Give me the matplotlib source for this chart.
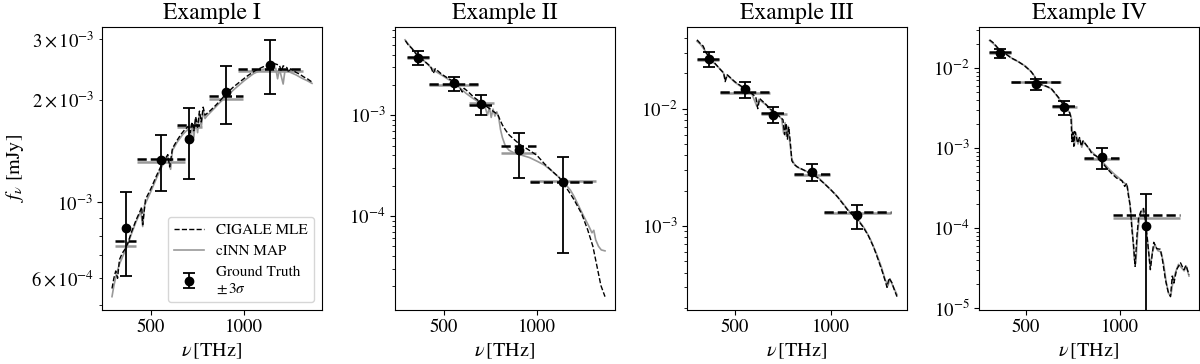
import matplotlib
matplotlib.use('Agg')
import matplotlib.pyplot as plt
import numpy as np

plt.rcParams['font.family'] = 'serif'
plt.rcParams['font.serif'] = ['STIXGeneral', 'Liberation Serif', 'DejaVu Serif']
plt.rcParams['mathtext.fontset'] = 'stix'

titles = ['Example I', 'Example II', 'Example III', 'Example IV']

# filter bands [THz]
band_lo = [305, 423, 638, 810, 965]
band_hi = [420, 685, 772, 995, 1318]
gt_nu = [365, 555, 702, 903, 1140]

# ground truth fluxes and 3 sigma errors [mJy]
gt_flux = [
    [0.84e-3, 1.33e-3, 1.53e-3, 2.105e-3, 2.53e-3],
    [3.72e-3, 2.07e-3, 1.29e-3, 4.54e-4, 2.15e-4],
    [2.67e-2, 1.46e-2, 8.9e-3, 2.9e-3, 1.23e-3],
    [1.55e-2, 6.3e-3, 3.26e-3, 7.76e-4, 1.05e-4],
]
gt_err = [
    [2.3e-4, 2.5e-4, 3.6e-4, 4.05e-4, 4.6e-4],
    [5.8e-4, 3.3e-4, 2.9e-4, 2.16e-4, 1.72e-4],
    [4.0e-3, 2.2e-3, 1.35e-3, 5.0e-4, 2.8e-4],
    [2.0e-3, 9.5e-4, 6.4e-4, 2.3e-4, 1.58e-4],
]

# band fluxes of the two models [mJy]
cigale_band = [
    [0.77e-3, 1.34e-3, 1.69e-3, 2.05e-3, 2.45e-3],
    [3.8e-3, 2.03e-3, 1.25e-3, 4.9e-4, 2.17e-4],
    [2.63e-2, 1.38e-2, 9.2e-3, 2.77e-3, 1.32e-3],
    [1.58e-2, 6.7e-3, 3.32e-3, 7.4e-4, 1.44e-4],
]
cinn_band = [
    [0.745e-3, 1.31e-3, 1.66e-3, 2.01e-3, 2.43e-3],
    [3.7e-3, 2.0e-3, 1.32e-3, 4.2e-4, 2.2e-4],
    [2.6e-2, 1.36e-2, 9.0e-3, 2.74e-3, 1.30e-3],
    [1.55e-2, 6.6e-3, 3.25e-3, 7.2e-4, 1.33e-4],
]

# spectra (nu [THz], flux [1e-3 mJy])
cig1_nu = [290, 300, 310, 320, 330, 345, 360, 375, 395, 420, 440, 450, 455, 470, 500, 530, 560, 590, 600,
           615, 640, 660, 680, 700, 710, 720, 730, 740, 750, 760, 770, 780, 790, 800, 820, 850, 880, 900,
           940, 980, 1020, 1060, 1100, 1140, 1160, 1190, 1200, 1210, 1230, 1240, 1250, 1280, 1300, 1320,
           1340, 1365]
cig1_f = [0.56, 0.60, 0.63, 0.60, 0.68, 0.71, 0.73, 0.76, 0.82, 0.89, 0.94, 0.97, 0.86, 1.02, 1.10, 1.20,
          1.30, 1.38, 1.27, 1.44, 1.52, 1.58, 1.63, 1.67, 1.60, 1.72, 1.62, 1.78, 1.66, 1.85, 1.72, 1.90,
          1.80, 1.82, 1.86, 1.93, 2.01, 2.07, 2.17, 2.26, 2.35, 2.43, 2.49, 2.54, 2.55, 2.52, 2.42, 2.51,
          2.48, 2.40, 2.46, 2.40, 2.37, 2.33, 2.30, 2.25]
cinn1_nu = [290, 300, 315, 330, 350, 370, 395, 420, 445, 455, 465, 500, 530, 560, 590, 605, 615, 640, 670,
            700, 710, 720, 730, 740, 750, 760, 770, 780, 790, 800, 830, 870, 900, 950, 1000, 1050, 1100,
            1140, 1170, 1180, 1190, 1210, 1220, 1250, 1280, 1310, 1340, 1365]
cinn1_f = [0.53, 0.57, 0.62, 0.66, 0.70, 0.74, 0.81, 0.88, 0.94, 0.85, 0.98, 1.08, 1.18, 1.28, 1.36, 1.25,
           1.42, 1.50, 1.58, 1.64, 1.52, 1.70, 1.55, 1.76, 1.60, 1.82, 1.66, 1.86, 1.76, 1.79, 1.86, 1.96,
           2.03, 2.15, 2.27, 2.38, 2.45, 2.47, 2.47, 2.30, 2.46, 2.22, 2.44, 2.40, 2.36, 2.31, 2.27, 2.23]

cig2_nu = [295, 310, 330, 350, 370, 400, 430, 445, 455, 490, 520, 555, 580, 600, 610, 630, 660, 690, 710,
           730, 750, 770, 790, 800, 815, 830, 850, 880, 910, 950, 1000, 1040, 1080, 1120, 1150, 1180,
           1200, 1240, 1272, 1300, 1343, 1365]
cig2_f = [5.5, 5.0, 4.6, 4.1, 3.8, 3.4, 3.05, 2.6, 2.9, 2.55, 2.35, 2.15, 1.95, 1.70, 1.85, 1.72, 1.52,
          1.38, 1.30, 1.22, 1.15, 1.08, 1.02, 0.92, 0.80, 0.72, 0.64, 0.57, 0.51, 0.46, 0.40, 0.33, 0.28,
          0.24, 0.20, 0.165, 0.144, 0.105, 0.073, 0.050, 0.0204, 0.0158]
cinn2_nu = [293, 310, 330, 350, 370, 400, 430, 460, 490, 520, 555, 590, 620, 650, 680, 700, 720, 735, 745,
            755, 765, 775, 785, 795, 805, 815, 830, 850, 880, 920, 960, 1000, 1040, 1080, 1120, 1150,
            1180, 1200, 1220, 1250, 1280, 1295, 1305, 1315, 1330, 1345, 1365]
cinn2_f = [5.6, 5.1, 4.6, 4.2, 3.8, 3.4, 3.0, 2.7, 2.5, 2.3, 2.1, 1.85, 1.65, 1.5, 1.38, 1.30, 1.25, 1.0,
           1.2, 0.95, 1.15, 0.98, 1.08, 0.95, 0.72, 0.60, 0.50, 0.45, 0.42, 0.40, 0.38, 0.35, 0.32, 0.28,
           0.24, 0.21, 0.18, 0.155, 0.13, 0.10, 0.078, 0.068, 0.072, 0.058, 0.050, 0.046, 0.045]

cig3_nu = [303, 320, 335, 350, 371, 400, 420, 442, 450, 460, 500, 548, 580, 610, 620, 630, 660, 690, 720,
           740, 752, 760, 768, 775, 782, 790, 798, 810, 825, 860, 895, 930, 966, 1000, 1037, 1060, 1091,
           1120, 1144, 1170, 1197, 1225, 1250, 1270, 1285, 1295, 1305, 1320, 1335, 1347]
cig3_f = [38.6, 36, 34.2, 30, 27.2, 24, 22, 20.2, 17, 19.5, 17, 15.0, 13.8, 12.6, 10, 12.2, 11.0, 9.8,
          9.0, 8.4, 8.05, 6.0, 7.5, 5.5, 7.0, 5.2, 3.6, 3.35, 3.2, 3.0, 2.81, 2.6, 2.31, 2.05, 1.77, 1.58,
          1.36, 1.22, 1.12, 0.98, 0.83, 0.66, 0.51, 0.41, 0.342, 0.30, 0.36, 0.33, 0.28, 0.25]
cinn3_nu = [303, 320, 340, 360, 380, 410, 442, 452, 462, 500, 548, 590, 615, 625, 660, 690, 720, 745,
            755, 763, 770, 778, 786, 798, 812, 830, 870, 900, 940, 980, 1020, 1060, 1090, 1120, 1150,
            1180, 1210, 1240, 1265, 1285, 1300, 1310, 1325, 1347]
cinn3_f = [37.5, 35.5, 32, 28.5, 25.5, 23, 20.0, 17.5, 19.3, 16.8, 14.8, 13.3, 10.5, 12.0, 10.9, 9.7,
           8.9, 8.2, 6.2, 7.6, 5.8, 7.1, 5.4, 3.7, 3.35, 3.15, 2.95, 2.78, 2.55, 2.2, 1.9, 1.6, 1.38, 1.22,
           1.10, 0.94, 0.76, 0.58, 0.45, 0.35, 0.31, 0.355, 0.31, 0.26]

cig4_nu = [308, 330, 350, 371, 385, 420, 456, 490, 527, 545, 563, 590, 610, 634, 660, 680, 696, 715, 732,
           740, 745, 750, 755, 760, 768, 775, 785, 795, 804, 820, 839, 850, 875, 900, 929, 955, 982, 1010,
           1025, 1036, 1045, 1054, 1063, 1072, 1080, 1090, 1098, 1110, 1125, 1135, 1143, 1152, 1161, 1170,
           1179, 1195, 1214, 1225, 1241, 1255, 1268, 1277, 1286, 1300, 1321, 1330, 1339, 1350, 1366]
cig4_f = [22.5, 20.5, 18, 16, 15.5, 13.5, 12.2, 10.8, 9.1, 8.0, 6.44, 6.1, 5.9, 5.57, 4.7, 4.1, 3.59,
          3.2, 2.81, 2.4, 1.2, 1.57, 1.05, 1.6, 1.4, 1.15, 1.35, 1.05, 1.23, 1.1, 0.96, 0.85, 0.79, 0.68,
          0.56, 0.48, 0.42, 0.39, 0.33, 0.36, 0.25, 0.192, 0.097, 0.06, 0.033, 0.08, 0.13, 0.16, 0.175,
          0.12, 0.080, 0.05, 0.030, 0.045, 0.066, 0.055, 0.054, 0.04, 0.0225, 0.016, 0.0138, 0.025,
          0.0204, 0.03, 0.0366, 0.033, 0.030, 0.034, 0.026]
cinn4_nu = [308, 330, 352, 375, 400, 430, 460, 500, 530, 548, 565, 600, 635, 665, 698, 720, 735, 743, 748,
            753, 758, 766, 777, 787, 797, 806, 825, 845, 880, 910, 940, 970, 1000, 1020, 1038, 1048, 1058,
            1066, 1076, 1084, 1094, 1104, 1120, 1132, 1142, 1150, 1160, 1172, 1185, 1200, 1218, 1232, 1245,
            1258, 1270, 1282, 1295, 1310, 1325, 1340, 1352, 1366]
cinn4_f = [22.0, 20.0, 17.6, 15.8, 14.8, 13.0, 12.0, 10.5, 8.9, 7.8, 6.3, 6.0, 5.5, 4.5, 3.5, 3.05, 2.7,
           2.3, 1.25, 1.6, 1.08, 1.55, 1.12, 1.32, 1.02, 1.2, 1.05, 0.92, 0.77, 0.66, 0.55, 0.47, 0.41,
           0.37, 0.34, 0.24, 0.15, 0.09, 0.04, 0.036, 0.09, 0.14, 0.17, 0.13, 0.085, 0.055, 0.032, 0.05,
           0.062, 0.052, 0.05, 0.035, 0.021, 0.015, 0.0145, 0.022, 0.028, 0.035, 0.032, 0.029, 0.033,
           0.025]

cig_nu = [cig1_nu, cig2_nu, cig3_nu, cig4_nu]
cig_f = [cig1_f, cig2_f, cig3_f, cig4_f]
cinn_nu = [cinn1_nu, cinn2_nu, cinn3_nu, cinn4_nu]
cinn_f = [cinn1_f, cinn2_f, cinn3_f, cinn4_f]

fig = plt.figure(figsize=(12, 3.64), dpi=100)
lefts = [102, 395, 687, 979]
axes = []
for i in range(4):
    ax = fig.add_axes([lefts[i] / 1200, 54.5 / 364, 220 / 1200, 282.5 / 364])
    axes.append(ax)

    ax.plot(cinn_nu[i], np.array(cinn_f[i]) * 1e-3, color='0.6', lw=1.2, label='cINN MAP', zorder=2)
    ax.plot(cig_nu[i], np.array(cig_f[i]) * 1e-3, color='k', ls='--', lw=1.0, label='CIGALE MLE', zorder=3)
    ax.hlines(cinn_band[i], band_lo, band_hi, colors='0.6', linestyles='-', lw=1.8, zorder=2)
    ax.hlines(cigale_band[i], band_lo, band_hi, colors='k', linestyles='--', lw=1.8, zorder=3)
    ax.errorbar(gt_nu, gt_flux[i], yerr=gt_err[i], fmt='o', color='k', ms=6, capsize=4,
                elinewidth=1.3, capthick=1.3, label='Ground Truth\n$\\pm\\,3\\sigma$', zorder=4)

    ax.set_yscale('log')
    ax.set_title(titles[i], fontsize=17)
    ax.set_xlabel(r'$\nu\,$[THz]', fontsize=14.5)
    ax.set_xticks([500, 1000])
    ax.tick_params(which='both', labelsize=13.5)

axes[0].set_ylabel(r'$f_\nu$ [mJy]', fontsize=14.5)
h, l = axes[0].get_legend_handles_labels()
order = [1, 0, 2]
axes[0].legend([h[k] for k in order], [l[k] for k in order], loc='lower right', fontsize=11,
               handlelength=2.0)

fig.savefig('out.png', dpi=100)
